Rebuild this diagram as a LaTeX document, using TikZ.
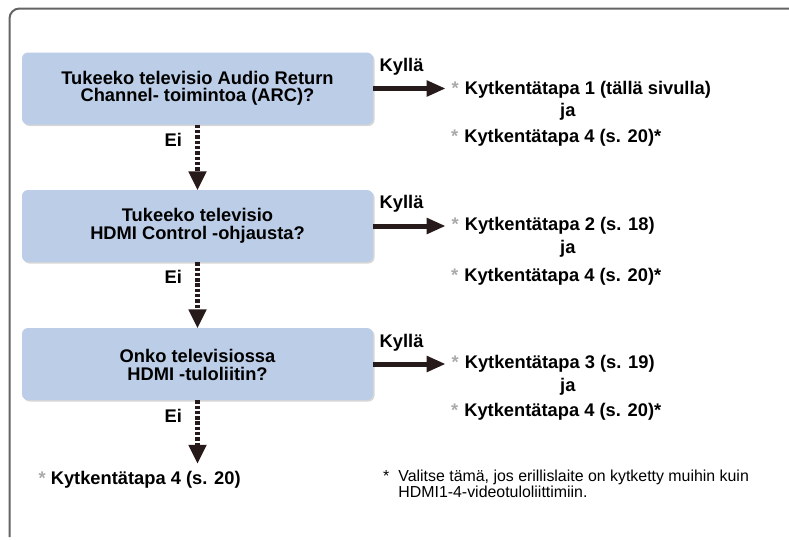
\documentclass[tikz,border=0pt]{standalone}
\usepackage{fontspec}
\setmainfont{Liberation Sans}
\usetikzlibrary{arrows.meta,shadows}
\definecolor{boxblue}{RGB}{187,205,231}
\definecolor{ink}{RGB}{38,26,26}
\definecolor{stargray}{RGB}{170,170,170}
\definecolor{framegray}{RGB}{100,100,100}
\definecolor{shadowgray}{RGB}{215,215,215}
\newcommand{\gst}{\textcolor{stargray}{*}}
\newcommand{\topstrut}[1]{\rule{0pt}{#1}}
\newcommand{\botstrut}{\rule[-4pt]{0pt}{4pt}}
\begin{document}
\begin{tikzpicture}[x=1pt,y=-1pt,
  bigfont/.style={font=\bfseries\fontsize{18.3}{17.5}\selectfont},
  qbox/.style={bigfont, fill=boxblue, rounded corners=6pt, minimum width=351pt,
    minimum height=72pt, inner sep=0pt, align=center,
    drop shadow={shadow xshift=1.5pt, shadow yshift=-1.5pt, fill=shadowgray, opacity=1}},
  lbl/.style={bigfont, inner sep=0pt, anchor=base west},
  yesarrow/.style={draw=ink, line width=5pt,
    -{Triangle[length=18.3pt,width=16.7pt,line width=0pt]}},
  noarrow/.style={draw=ink, line width=5.5pt, dash pattern=on 3.4pt off 1.9pt,
    -{Triangle[length=18.5pt,width=18.5pt,line width=0pt]}},
  framestyle/.style={draw=framegray, line width=2pt, rounded corners=10pt}]
\useasboundingbox (0,0) rectangle (789,539);
\draw[framestyle] (789,8.5) -- (9.5,8.5) -- (9.5,537);

% question boxes
\node[qbox] (b1) at (197.5,88.5) {\topstrut{12.5pt}Tukeeko televisio Audio Return\\Channel- toimintoa (ARC)?\botstrut};
\node[qbox] (b2) at (197.5,226) {\topstrut{12.5pt}Tukeeko televisio\\HDMI Control -ohjausta?\botstrut};
\node[qbox] (b3) at (197.5,364) {\topstrut{18.8pt}Onko televisiossa\\HDMI -tuloliitin?\botstrut};

% labels
\node[lbl] (k1) at (379.5,71.7) {Kyllä};
\node[lbl] (k2) at (379.5,208.3) {Kyllä};
\node[lbl] (k3) at (379.5,347.7) {Kyllä};
\node[lbl] (e1) at (164.5,146) {Ei};
\node[lbl] (e2) at (164.5,283.3) {Ei};
\node[lbl] (e3) at (164.5,422.3) {Ei};

% answers
\node[lbl] (r1a) at (451.5,94) {\gst\hspace{6pt}Kytkentätapa 1 (tällä sivulla)};
\node[lbl] (j1) at (560,116.5) {ja};
\node[lbl] (r1b) at (451,142) {\gst\hspace{6pt}Kytkentätapa 4 (s. 20)*};
\node[lbl] (r2a) at (451.5,230.5) {\gst\hspace{6pt}Kytkentätapa 2 (s. 18)};
\node[lbl] (j2) at (560,253.5) {ja};
\node[lbl] (r2b) at (451,281) {\gst\hspace{6pt}Kytkentätapa 4 (s. 20)*};
\node[lbl] (r3a) at (451.5,368) {\gst\hspace{6pt}Kytkentätapa 3 (s. 19)};
\node[lbl] (j3) at (560,391.5) {ja};
\node[lbl] (r3b) at (451,416) {\gst\hspace{6pt}Kytkentätapa 4 (s. 20)*};
\node[lbl] (r4) at (38.5,484) {\gst\hspace{5pt}Kytkentätapa 4 (s. 20)};
\coordinate (t3) at (197.5,463.3);

% footnote
\node[anchor=base west, inner sep=0pt, font=\fontsize{15.9}{15}\selectfont] (fn) at (383,481.7)
  {\begin{tabular}[t]{@{}l@{\hspace{9pt}}l@{}}*&Valitse tämä, jos erillislaite on kytketty muihin kuin\\&HDMI1-4-videotuloliittimiin.\end{tabular}};

% connectors
\draw[yesarrow, shorten >=6.5pt] (b1.east) -- (b1.east -| r1a.west);
\draw[yesarrow, shorten >=6.5pt] (b2.east) -- (b2.east -| r2a.west);
\draw[yesarrow, shorten >=6.5pt] (b3.east) -- (b3.east -| r3a.west);
\draw[noarrow] (b1.south) -- (b2.north);
\draw[noarrow] (b2.south) -- (b3.north);
\draw[noarrow] (b3.south) -- (t3);
\end{tikzpicture}
\end{document}
